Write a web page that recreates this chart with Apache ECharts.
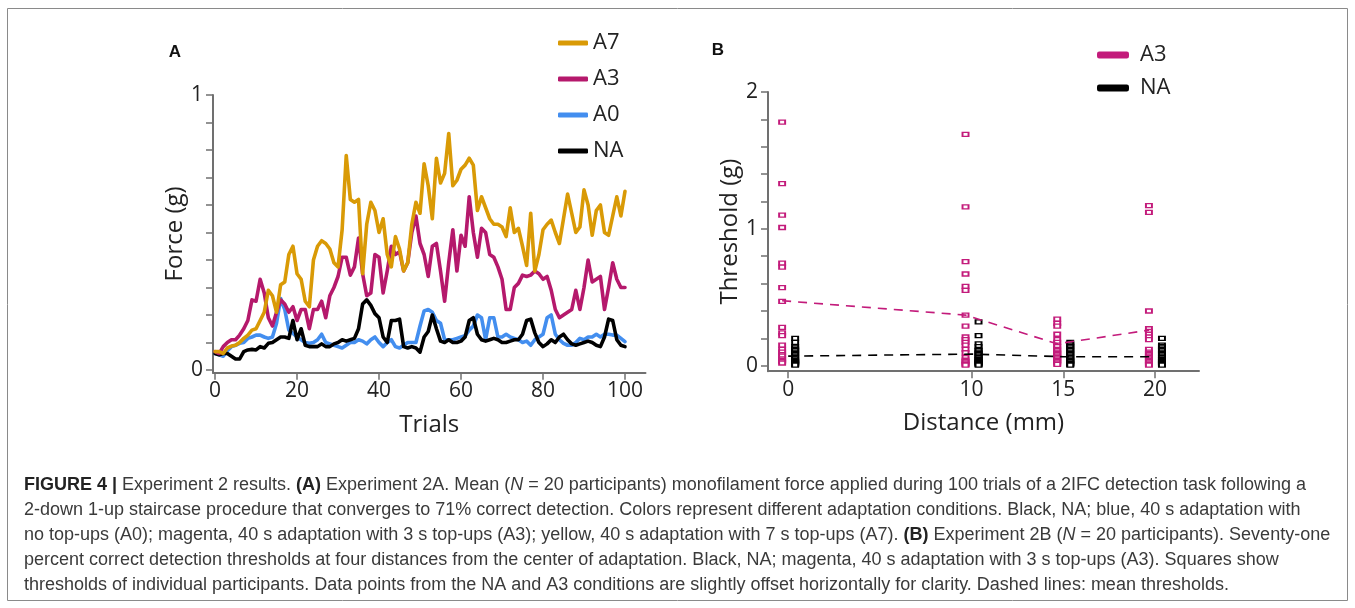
<!DOCTYPE html>
<html><head><meta charset="utf-8">
<script src="https://cdn.jsdelivr.net/npm/echarts@6/dist/echarts.min.js"></script>
<style>html,body{margin:0;padding:0;background:#fff}#c{width:1355px;height:608px}</style>
</head><body><div id="c"></div>
<script>
// ---------- Panel A data (trials 0..100) ----------
const trials = Array.from({length: 101}, (_, i) => i);
const forceA7 = [0.067,0.067,0.06,0.08,0.087,0.09,0.10,0.115,0.127,0.145,
  0.15,0.18,0.21,0.29,0.27,0.21,0.31,0.32,0.42,0.45,
  0.35,0.33,0.25,0.23,0.40,0.45,0.47,0.46,0.44,0.39,
  0.375,0.51,0.78,0.62,0.61,0.62,0.35,0.53,0.61,0.58,
  0.50,0.55,0.42,0.375,0.485,0.44,0.36,0.39,0.53,0.61,
  0.57,0.75,0.67,0.55,0.77,0.68,0.715,0.86,0.67,0.69,
  0.73,0.745,0.77,0.745,0.58,0.63,0.59,0.55,0.53,0.53,
  0.52,0.485,0.59,0.50,0.515,0.45,0.38,0.57,0.36,0.42,
  0.51,0.53,0.545,0.50,0.46,0.55,0.64,0.57,0.50,0.52,
  0.655,0.60,0.49,0.58,0.60,0.50,0.49,0.56,0.63,0.56,0.65];
const forceA3 = [0.067,0.06,0.085,0.10,0.11,0.11,0.127,0.15,0.18,0.255,
  0.25,0.33,0.28,0.19,0.16,0.21,0.255,0.24,0.21,0.23,
  0.18,0.22,0.22,0.15,0.22,0.22,0.25,0.19,0.27,0.30,
  0.34,0.41,0.41,0.345,0.375,0.48,0.35,0.27,0.28,0.42,
  0.41,0.28,0.36,0.45,0.42,0.43,0.36,0.39,0.50,0.56,
  0.46,0.42,0.34,0.45,0.46,0.36,0.25,0.39,0.51,0.36,
  0.49,0.45,0.63,0.50,0.41,0.515,0.50,0.42,0.41,0.375,
  0.33,0.22,0.22,0.30,0.315,0.345,0.34,0.345,0.36,0.35,
  0.33,0.34,0.29,0.22,0.19,0.20,0.21,0.22,0.29,0.22,
  0.30,0.40,0.32,0.33,0.34,0.22,0.30,0.39,0.33,0.30,0.30];
const forceA0 = [0.06,0.055,0.05,0.07,0.085,0.09,0.097,0.10,0.115,0.12,
  0.127,0.127,0.12,0.115,0.12,0.17,0.26,0.22,0.145,0.133,
  0.12,0.11,0.10,0.097,0.10,0.11,0.13,0.10,0.095,0.09,
  0.085,0.08,0.09,0.10,0.10,0.11,0.105,0.095,0.11,0.12,
  0.10,0.085,0.10,0.11,0.085,0.08,0.09,0.10,0.10,0.10,
  0.16,0.215,0.22,0.21,0.18,0.17,0.11,0.11,0.11,0.115,
  0.12,0.125,0.145,0.16,0.20,0.19,0.11,0.19,0.19,0.12,
  0.12,0.13,0.12,0.115,0.11,0.10,0.105,0.09,0.11,0.12,
  0.13,0.19,0.20,0.13,0.11,0.097,0.09,0.09,0.10,0.115,
  0.11,0.12,0.12,0.13,0.12,0.13,0.13,0.127,0.127,0.115,0.103];
const forceNA = [0.06,0.055,0.06,0.06,0.05,0.04,0.04,0.067,0.073,0.075,
  0.073,0.085,0.08,0.097,0.10,0.11,0.12,0.12,0.115,0.18,
  0.11,0.15,0.09,0.085,0.085,0.085,0.095,0.085,0.085,0.095,
  0.10,0.11,0.105,0.11,0.115,0.15,0.24,0.255,0.235,0.205,
  0.19,0.12,0.10,0.18,0.18,0.185,0.085,0.08,0.085,0.08,
  0.065,0.12,0.14,0.20,0.15,0.105,0.10,0.11,0.10,0.10,
  0.105,0.12,0.18,0.19,0.13,0.11,0.105,0.11,0.115,0.11,
  0.10,0.10,0.105,0.11,0.11,0.13,0.18,0.185,0.135,0.10,
  0.085,0.095,0.11,0.10,0.12,0.13,0.11,0.095,0.09,0.095,
  0.10,0.105,0.10,0.09,0.085,0.12,0.185,0.18,0.11,0.09,0.085];
const trialTicks = [0, 20, 40, 60, 80, 100];
const forceTicks = [0, 0.1, 0.2, 0.3, 0.4, 0.5, 0.6, 0.7, 0.8, 0.9, 1];
const forceLabels = [0, 1];

// ---------- Panel B data ----------
const distances = [0, 10, 15, 20];
const thrA3_d0  = [1.78,1.33,1.10,1.01,0.75,0.72,0.57,0.47,0.28,0.24,0.22,0.15,0.12,0.10,0.08,0.07,0.05,0.04,0.03,0.02];
const thrNA_d0  = [0.20,0.17,0.14,0.13,0.12,0.11,0.10,0.09,0.08,0.07,0.06,0.05,0.04,0.035,0.03,0.025,0.02,0.015,0.01,0.005];
const thrA3_d10 = [1.69,1.16,0.76,0.67,0.58,0.55,0.37,0.29,0.21,0.19,0.17,0.15,0.12,0.095,0.06,0.04,0.03,0.02,0.01,0.005];
const thrNA_d10 = [0.32,0.22,0.16,0.14,0.12,0.11,0.10,0.09,0.08,0.07,0.06,0.05,0.045,0.04,0.03,0.025,0.02,0.015,0.01,0.005];
const thrA3_d15 = [0.34,0.31,0.29,0.23,0.19,0.17,0.15,0.14,0.12,0.11,0.10,0.09,0.08,0.07,0.06,0.05,0.04,0.03,0.02,0.01];
const thrNA_d15 = [0.17,0.16,0.15,0.14,0.13,0.12,0.11,0.10,0.09,0.08,0.07,0.06,0.05,0.04,0.035,0.03,0.02,0.015,0.01,0.005];
const thrA3_d20 = [1.17,1.12,0.40,0.27,0.25,0.23,0.21,0.19,0.12,0.10,0.09,0.08,0.07,0.06,0.05,0.04,0.03,0.02,0.01,0.005];
const thrNA_d20 = [0.20,0.15,0.14,0.13,0.12,0.11,0.10,0.09,0.08,0.07,0.06,0.05,0.045,0.04,0.03,0.025,0.02,0.015,0.01,0.005];
const meanA3 = [0.475, 0.37, 0.16, 0.26];
const meanNA = [0.07, 0.085, 0.066, 0.066];
const thrTicks = [0, 0.2, 0.4, 0.6, 0.8, 1, 1.2, 1.4, 1.6, 1.8, 2];
const thrLabels = [0, 1, 2];

// ---------- Caption ----------
const captionLines = [
  '{b|FIGURE 4 |} Experiment 2 results. {b|(A)} Experiment 2A. Mean ({i|N} = 20 participants) monofilament force applied during 100 trials of a 2IFC detection task following a',
  '2-down 1-up staircase procedure that converges to 71% correct detection. Colors represent different adaptation conditions. Black, NA; blue, 40 s adaptation with',
  'no top-ups (A0); magenta, 40 s adaptation with 3 s top-ups (A3); yellow, 40 s adaptation with 7 s top-ups (A7). {b|(B)} Experiment 2B ({i|N} = 20 participants). Seventy-one',
  'percent correct detection thresholds at four distances from the center of adaptation. Black, NA; magenta, 40 s adaptation with 3 s top-ups (A3). Squares show',
  'thresholds of individual participants. Data points from the NA and A3 conditions are slightly offset horizontally for clarity. Dashed lines: mean thresholds.'
];

// ---------- styling ----------
const C_A7 = '#D99A06', C_A3 = '#B5196C', C_A0 = '#438EEF', C_NA = '#000000', C_B3 = '#C31B7B';
const FONT = 'Open Sans';
const axisCol = '#707070';
const CAP = 18;

const lineSeries = (name, arr, color, z) => ({
  type: 'line', name, xAxisIndex: 0, yAxisIndex: 0, showSymbol: false, symbol: 'none',
  data: trials.map((t, i) => [t, arr[i]]), z,
  lineStyle: { color, width: 3.6, join: 'round', cap: 'round' }, itemStyle: { color },
  animation: false
});
const offA3 = -0.33, offNA = 0.38;
const scatterData = (sets, off) => sets.flatMap((arr, k) => arr.map(v => [distances[k] + off, v]));

const chart = echarts.init(document.getElementById('c'), null, { renderer: 'canvas' });
const xAxisCommon = {
  type: 'value', splitLine: { show: false },
  axisLine: { show: true, onZero: false, lineStyle: { color: axisCol, width: 2 } },
  axisTick: { show: true, length: 7, lineStyle: { color: axisCol, width: 1.5 } },
  axisLabel: { color: '#222', fontFamily: FONT, fontSize: 21, margin: 8 },
  nameLocation: 'middle', nameTextStyle: { color: '#222', fontFamily: FONT, fontSize: 24 }
};
chart.setOption({
  animation: false,
  backgroundColor: '#fff',
  grid: [
    { left: 213, top: 95, width: 432.5, height: 277.75 },
    { left: 768, top: 92, width: 431, height: 279.2 }
  ],
  xAxis: [
    Object.assign({}, xAxisCommon, { gridIndex: 0, min: -0.5, max: 105, name: 'Trials', nameGap: 40,
      axisTick: Object.assign({}, xAxisCommon.axisTick, { customValues: trialTicks }),
      axisLabel: Object.assign({}, xAxisCommon.axisLabel, { customValues: trialTicks }) }),
    Object.assign({}, xAxisCommon, { gridIndex: 1, min: -1.1, max: 22.4, name: 'Distance (mm)', nameGap: 40,
      axisTick: Object.assign({}, xAxisCommon.axisTick, { customValues: distances }),
      axisLabel: Object.assign({}, xAxisCommon.axisLabel, { customValues: distances }) })
  ],
  yAxis: [
    Object.assign({}, xAxisCommon, { gridIndex: 0, min: -0.01, max: 1, name: 'Force (g)', nameGap: 22,
      axisTick: Object.assign({}, xAxisCommon.axisTick, { customValues: forceTicks }),
      axisLabel: Object.assign({}, xAxisCommon.axisLabel, { customValues: forceLabels, margin: 10 }) }),
    Object.assign({}, xAxisCommon, { gridIndex: 1, min: -0.04, max: 2, name: 'Threshold (g)', nameGap: 25,
      axisTick: Object.assign({}, xAxisCommon.axisTick, { customValues: thrTicks }),
      axisLabel: Object.assign({}, xAxisCommon.axisLabel, { customValues: thrLabels, margin: 10 }) })
  ],
  legend: [
    { orient: 'vertical', left: 553, top: 26, itemWidth: 30, itemHeight: 5, itemGap: 12, icon: 'roundRect',
      textStyle: { fontFamily: FONT, fontSize: 22, color: '#222', lineHeight: 24 },
      data: [
        { name: 'A7', itemStyle: { color: C_A7 } },
        { name: 'A3', itemStyle: { color: C_A3 } },
        { name: 'A0', itemStyle: { color: C_A0 } },
        { name: 'NA', itemStyle: { color: C_NA } }
      ], selectedMode: false },
    { orient: 'vertical', left: 1092, top: 38, itemWidth: 30, itemHeight: 5, itemGap: 9, icon: 'roundRect',
      textStyle: { fontFamily: FONT, fontSize: 22, color: '#222', lineHeight: 24, padding: [0, 0, 0, 7] },
      data: [
        { name: 'A3 ', itemStyle: { color: C_B3 } },
        { name: 'NA ', itemStyle: { color: C_NA } }
      ], selectedMode: false }
  ],
  series: [
    lineSeries('A0', forceA0, C_A0, 2),
    lineSeries('NA', forceNA, C_NA, 3),
    lineSeries('A3', forceA3, C_A3, 4),
    lineSeries('A7', forceA7, C_A7, 5),
    { type: 'scatter', name: 'A3 ', xAxisIndex: 1, yAxisIndex: 1, symbol: 'rect', symbolSize: [6, 4],
      data: scatterData([thrA3_d0, thrA3_d10, thrA3_d15, thrA3_d20], offA3),
      itemStyle: { color: '#fff', borderColor: C_B3, borderWidth: 1.6, opacity: 1 }, z: 3 },
    { type: 'scatter', name: 'NA ', xAxisIndex: 1, yAxisIndex: 1, symbol: 'rect', symbolSize: [6, 4],
      data: scatterData([thrNA_d0, thrNA_d10, thrNA_d15, thrNA_d20], offNA),
      itemStyle: { color: '#fff', borderColor: C_NA, borderWidth: 1.6, opacity: 1 }, z: 3 },
    { type: 'line', name: 'A3 ', xAxisIndex: 1, yAxisIndex: 1, symbol: 'none', z: 4,
      data: distances.map((d, i) => [d + offA3, meanA3[i]]),
      lineStyle: { color: C_B3, width: 1.6, type: [9, 7] } },
    { type: 'line', name: 'NA ', xAxisIndex: 1, yAxisIndex: 1, symbol: 'none', z: 4,
      data: distances.map((d, i) => [d, meanNA[i]]),
      lineStyle: { color: C_NA, width: 1.6, type: [9, 7] } }
  ],
  graphic: [
    { type: 'rect', shape: { x: 7.5, y: 8.5, width: 1340, height: 592 }, style: { fill: 'none', stroke: '#8a8a8a', lineWidth: 1 }, silent: true },
    { type: 'text', x: 175, y: 52, style: { text: 'A', font: 'bold 17px "Liberation Sans"', fill: '#111', align: 'center', verticalAlign: 'middle' } },
    { type: 'text', x: 718, y: 50, style: { text: 'B', font: 'bold 17px "Liberation Sans"', fill: '#111', align: 'center', verticalAlign: 'middle' } }
  ].concat(captionLines.map((txt, i) => ({
    type: 'text', x: 24, y: 485 + i * 25,
    style: { text: txt, font: CAP + 'px "Liberation Sans"', fill: '#3a3a3a', verticalAlign: 'middle',
      rich: { b: { fontWeight: 'bold', fontFamily: 'Liberation Sans', fontSize: CAP, fill: '#222' },
              i: { fontStyle: 'italic', fontFamily: 'Liberation Sans', fontSize: CAP, fill: '#3a3a3a' } } }
  })))
});
</script></body></html>
